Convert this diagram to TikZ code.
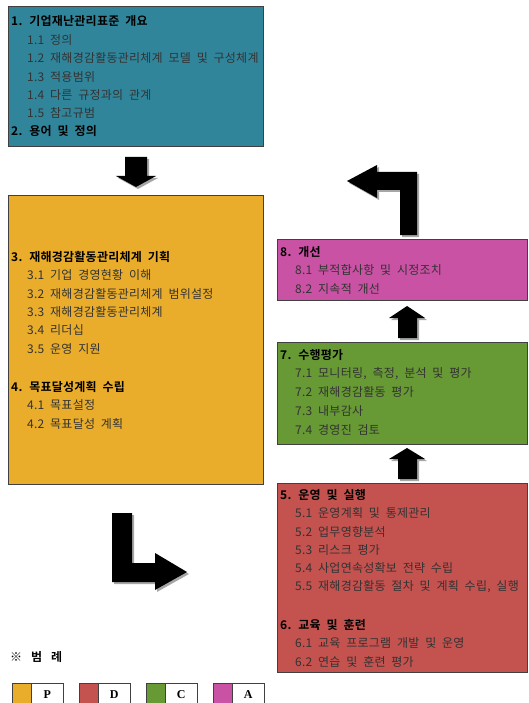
\documentclass[tikz,border=0pt]{standalone}
\usepackage{fontspec}
\setmainfont{Noto Sans CJK KR}[BoldFont={Noto Sans CJK KR Bold}, LetterSpace=2, WordSpace=2]
\newfontfamily\keyfont{Liberation Serif}
\usetikzlibrary{shadows}

\definecolor{introc}{RGB}{49,133,155}
\definecolor{planc}{RGB}{233,173,43}
\definecolor{doc}{RGB}{196,82,79}
\definecolor{checkc}{RGB}{103,153,52}
\definecolor{actc}{RGB}{201,82,164}

\tikzset{
  box/.style={draw=black!75, line width=0.8pt, anchor=north west, inner sep=0pt},
  head/.style={anchor=west, inner sep=0pt, font=\fontsize{12}{14}\selectfont\bfseries},
  item/.style={anchor=west, inner sep=0pt, text=black!80, font=\fontsize{12}{14}\selectfont},
  blockarrow/.style={fill=black, drop shadow={shadow xshift=2pt, shadow yshift=-2pt, fill=black!35, opacity=1}},
  keybox/.style={draw=black!75, line width=0.6pt, anchor=north west, minimum height=22pt, inner sep=0pt},
}

\begin{document}
\begin{tikzpicture}[x=1pt, y=-1pt]
    \useasboundingbox (0,0) rectangle (528,703);

    % boxes
    \node[box, fill=introc, minimum width=255pt, minimum height=140pt] (intro) at (8,6) {};
    \node[box, fill=planc, minimum width=255pt, minimum height=289pt] (plan) at (8,195) {};
    \node[box, fill=actc, minimum width=250pt, minimum height=61pt] (act) at (277,239) {};
    \node[box, fill=checkc, minimum width=250pt, minimum height=102pt] (check) at (277,342) {};
    \node[box, fill=doc, minimum width=250pt, minimum height=189pt] (do) at (277,483) {};

    % 1, 2
    \node[head] (h1) at (11,21) {1. 기업재난관리표준 개요};
    \node[item] (i11) at (27,40) {1.1 정의};
    \node[item] (i12) at (27,58) {1.2 재해경감활동관리체계 모델 및 구성체계};
    \node[item] (i13) at (27,77) {1.3 적용범위};
    \node[item] (i14) at (27,95) {1.4 다른 규정과의 관계};
    \node[item] (i15) at (27,113) {1.5 참고규범};
    \node[head] (h2) at (11,131) {2. 용어 및 정의};

    % 3, 4
    \node[head] (h3) at (11,257) {3. 재해경감활동관리체계 기획};
    \node[item] (i31) at (27,275) {3.1 기업 경영현황 이해};
    \node[item] (i32) at (27,294) {3.2 재해경감활동관리체계 범위설정};
    \node[item] (i33) at (27,312) {3.3 재해경감활동관리체계};
    \node[item] (i34) at (27,330) {3.4 리더십};
    \node[item] (i35) at (27,349) {3.5 운영 지원};
    \node[head] (h4) at (11,387) {4. 목표달성계획 수립};
    \node[item] (i41) at (27,405) {4.1 목표설정};
    \node[item] (i42) at (27,424) {4.2 목표달성 계획};

    % 8
    \node[head] (h8) at (280,252) {8. 개선};
    \node[item] (i81) at (295,270) {8.1 부적합사항 및 시정조치};
    \node[item] (i82) at (295,289) {8.2 지속적 개선};

    % 7
    \node[head] (h7) at (280,355) {7. 수행평가};
    \node[item] (i71) at (295,374) {7.1 모니터링, 측정, 분석 및 평가};
    \node[item] (i72) at (295,392) {7.2 재해경감활동 평가};
    \node[item] (i73) at (295,411) {7.3 내부감사};
    \node[item] (i74) at (295,430) {7.4 경영진 검토};

    % 5, 6
    \node[head] (h5) at (280,495) {5. 운영 및 실행};
    \node[item] (i51) at (295,513) {5.1 운영계획 및 통제관리};
    \node[item] (i52) at (295,532) {5.2 업무영향분석};
    \node[item] (i53) at (295,550) {5.3 리스크 평가};
    \node[item] (i54) at (295,568) {5.4 사업연속성확보 전략 수립};
    \node[item] (i55) at (295,587) {5.5 재해경감활동 절차 및 계획 수립, 실행};
    \node[head] (h6) at (280,625) {6. 교육 및 훈련};
    \node[item] (i61) at (295,643) {6.1 교육 프로그램 개발 및 운영};
    \node[item] (i62) at (295,662) {6.2 연습 및 훈련 평가};

    % block arrows
    \fill[blockarrow] (125,157) -- (147,157) -- (147,176) -- (156,176) -- (136,187) -- (116,176) -- (125,176) -- cycle;
    \fill[blockarrow] (112,513) -- (132,513) -- (132,563) -- (155,563) -- (155,553) -- (187,572) -- (155,590) -- (155,582) -- (112,582) -- cycle;
    \fill[blockarrow] (398,479) -- (398,459) -- (389,459) -- (407,448) -- (425,459) -- (417,459) -- (417,479) -- cycle;
    \fill[blockarrow] (398,338) -- (398,318) -- (389,318) -- (407,306) -- (425,318) -- (417,318) -- (417,338) -- cycle;
    \fill[blockarrow] (400,235) -- (400,190) -- (377,190) -- (377,198) -- (347,181) -- (377,165) -- (377,172) -- (417,172) -- (417,235) -- cycle;

    % legend
    \node[head] (legend) at (10,657) {※\hspace{9pt}범\hspace{9pt}례};
    \node[keybox, fill=planc, minimum width=19pt] (keyP) at (12,683) {};
    \node[keybox, minimum width=32pt, font=\fontsize{12}{14}\keyfont\bfseries] (labP) at (31,683) {P};
    \node[keybox, fill=doc, minimum width=19pt] (keyD) at (79,683) {};
    \node[keybox, minimum width=32pt, font=\fontsize{12}{14}\keyfont\bfseries] (labD) at (98,683) {D};
    \node[keybox, fill=checkc, minimum width=19pt] (keyC) at (146,683) {};
    \node[keybox, minimum width=32pt, font=\fontsize{12}{14}\keyfont\bfseries] (labC) at (165,683) {C};
    \node[keybox, fill=actc, minimum width=19pt] (keyA) at (213,683) {};
    \node[keybox, minimum width=32pt, font=\fontsize{12}{14}\keyfont\bfseries] (labA) at (232,683) {A};
\end{tikzpicture}
\end{document}
